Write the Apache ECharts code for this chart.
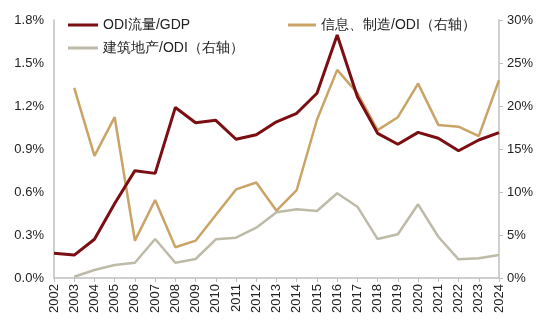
<!DOCTYPE html>
<html><head><meta charset="utf-8">
<script src="https://cdn.jsdelivr.net/npm/echarts@6/dist/echarts.min.js"></script>
<style>html,body{margin:0;padding:0;background:#fff}#c{width:550px;height:328px}</style>
</head><body><div id="c"></div>
<script>
const years = ['2002','2003','2004','2005','2006','2007','2008','2009','2010','2011','2012','2013','2014','2015','2016','2017','2018','2019','2020','2021','2022','2023','2024'];
const odiGdp = [0.172,0.16,0.27,0.52,0.749,0.73,1.19,1.083,1.10,0.968,1.0,1.09,1.149,1.289,1.695,1.265,1.009,0.933,1.016,0.975,0.888,0.963,1.014];
const infoMfg = [null,22.1,14.2,18.7,4.34,9.07,3.57,4.34,7.33,10.3,11.1,7.83,10.23,18.4,24.2,21.5,17.2,18.7,22.6,17.8,17.6,16.5,23.0];
const construction = [null,0.15,0.93,1.51,1.78,4.53,1.78,2.21,4.5,4.69,5.85,7.64,7.99,7.79,9.85,8.29,4.53,5.08,8.57,4.8,2.17,2.29,2.67];
const leftTicks = {min:0,max:1.8,interval:0.3};
const rightTicks = {min:0,max:30,interval:5};

const font = 'Liberation Sans, Arial, sans-serif';
const axisGray = '#BFBFBF';
const chart = echarts.init(document.getElementById('c'));
chart.setOption({
  animation:false,
  textStyle:{fontFamily:font},
  grid:{left:54,right:51,top:20,bottom:50},
  legend:[
    {data:['ODI流量/GDP','建筑地产/ODI（右轴）'],orient:'vertical',left:63,top:13,itemWidth:30,itemHeight:3,itemGap:9,icon:'rect',
     textStyle:{fontSize:14,color:'#222',fontFamily:font}},
    {data:['信息、制造/ODI（右轴）'],orient:'vertical',left:283,top:13,itemWidth:28,itemHeight:3,icon:'rect',
     textStyle:{fontSize:14,color:'#222',fontFamily:font}}
  ],
  xAxis:{type:'category',data:years,boundaryGap:false,
    axisLine:{lineStyle:{color:axisGray,width:1.5}},
    axisTick:{show:true,length:4,lineStyle:{color:axisGray}},
    axisLabel:{rotate:90,fontSize:13,color:'#222',margin:6,interval:0}},
  yAxis:[
    {type:'value',min:leftTicks.min,max:leftTicks.max,interval:leftTicks.interval,
     axisLine:{show:true,lineStyle:{color:axisGray,width:1.5}},axisTick:{show:false},splitLine:{show:false},
     axisLabel:{fontSize:13,color:'#222',margin:10,formatter:v=>v.toFixed(1)+'%'}},
    {type:'value',min:rightTicks.min,max:rightTicks.max,interval:rightTicks.interval,position:'right',
     axisLine:{show:true,lineStyle:{color:axisGray,width:1.5}},axisTick:{show:true,length:4,lineStyle:{color:axisGray}},splitLine:{show:false},
     axisLabel:{fontSize:13,color:'#222',margin:8,formatter:'{value}%'}}
  ],
  series:[
    {name:'ODI流量/GDP',type:'line',data:odiGdp,yAxisIndex:0,symbol:'none',z:5,
     lineStyle:{color:'#7A0E12',width:3},itemStyle:{color:'#7A0E12'}},
    {name:'建筑地产/ODI（右轴）',type:'line',data:construction,yAxisIndex:1,symbol:'none',z:3,
     lineStyle:{color:'#BDBBA7',width:2.5},itemStyle:{color:'#BDBBA7'}},
    {name:'信息、制造/ODI（右轴）',type:'line',data:infoMfg,yAxisIndex:1,symbol:'none',z:4,
     lineStyle:{color:'#C9A466',width:2.5},itemStyle:{color:'#C9A466'}}
  ]
});
</script></body></html>
